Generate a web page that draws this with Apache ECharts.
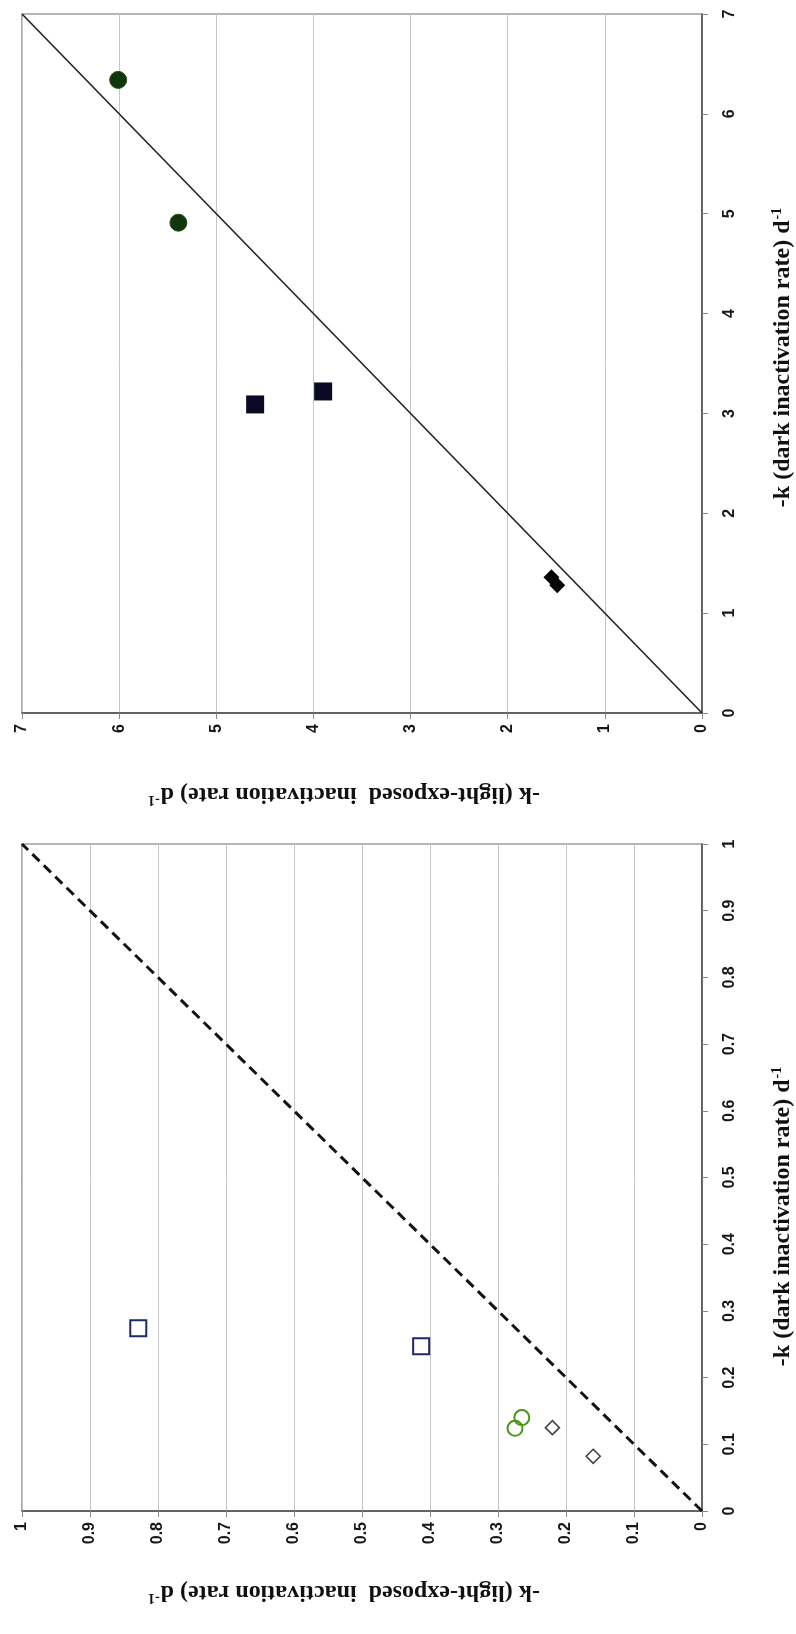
<!DOCTYPE html>
<html>
<head>
<meta charset="utf-8">
<script src="https://cdn.jsdelivr.net/npm/echarts@6/dist/echarts.min.js"></script>
<style>
  html, body { margin: 0; padding: 0; background: #ffffff; }
  #chart { width: 796px; height: 1634px; }
</style>
</head>
<body>
<div id="chart"></div>
<script>
// Upper panel: higher inactivation rates (filled markers), units d^-1
const upperTicks = [0, 1, 2, 3, 4, 5, 6, 7];
const upperCircleDark = [6.34, 4.91];
const upperCircleLight = [6.01, 5.39];
const upperSquareDark = [3.09, 3.22];
const upperSquareLight = [4.60, 3.90];
const upperDiamondDark = [1.36, 1.28];
const upperDiamondLight = [1.55, 1.49];

// Lower panel: lower inactivation rates (open markers), units d^-1
const lowerTicks = [0, 0.1, 0.2, 0.3, 0.4, 0.5, 0.6, 0.7, 0.8, 0.9, 1];
const lowerSquareDark = [0.274, 0.247];
const lowerSquareLight = [0.829, 0.413];
const lowerCircleDark = [0.140, 0.124];
const lowerCircleLight = [0.265, 0.275];
const lowerDiamondDark = [0.125, 0.082];
const lowerDiamondLight = [0.220, 0.160];

// Axis titles (superscript unit added through rich text)
const darkTitle = '-k (dark inactivation rate) d';
const lightTitle = '-k (light-exposed  inactivation rate) d';
const unitSup = '-1';

// [light, dark] pairs: light-exposed rate runs along the horizontal axis
function pairs(light, dark) {
  return light.map((v, i) => [v, dark[i]]);
}

const tickFont = {
  fontFamily: '"Liberation Sans", Arial, sans-serif',
  fontWeight: 'bold',
  fontSize: 16,
  color: '#161616'
};
const titleRich = {
  b: { fontFamily: '"Liberation Serif", "Times New Roman", serif', fontWeight: 'bold', fontSize: 24, color: '#111' },
  s: { fontFamily: '"Liberation Serif", "Times New Roman", serif', fontWeight: 'bold', fontSize: 14, color: '#111', padding: [0, 0, 12, 1] }
};

function lightAxis(gridIndex, ticks) {
  return {
    type: 'value',
    gridIndex: gridIndex,
    min: ticks[0],
    max: ticks[ticks.length - 1],
    interval: ticks[1] - ticks[0],
    inverse: true,
    position: 'bottom',
    name: '{b|' + lightTitle + '}{s|' + unitSup + '}',
    nameLocation: 'middle',
    nameRotate: 180,
    nameGap: 68,
    nameTextStyle: { rich: titleRich, padding: [0, 0, 0, 36] },
    axisLine: { show: true, onZero: false, lineStyle: { color: '#4a4a4a', width: 1.5 } },
    axisTick: { show: true, inside: false, length: 6, lineStyle: { color: '#8a8a8a', width: 1 } },
    axisLabel: Object.assign({ rotate: 90, margin: 11 }, tickFont),
    splitLine: { show: true, lineStyle: { color: '#c6c6c6', width: 1 } }
  };
}

function darkAxis(gridIndex, ticks, namePad) {
  return {
    type: 'value',
    gridIndex: gridIndex,
    min: ticks[0],
    max: ticks[ticks.length - 1],
    interval: ticks[1] - ticks[0],
    position: 'right',
    name: '{b|' + darkTitle + '}{s|' + unitSup + '}',
    nameLocation: 'middle',
    nameRotate: 90,
    nameGap: 68,
    nameTextStyle: { rich: titleRich, padding: namePad },
    axisLine: { show: true, onZero: false, lineStyle: { color: '#4a4a4a', width: 1.5 } },
    axisTick: { show: true, inside: false, length: 6, lineStyle: { color: '#8a8a8a', width: 1 } },
    axisLabel: Object.assign({ rotate: 90, margin: 20 }, tickFont),
    splitLine: { show: false }
  };
}

function diagonal(name, idx, ticks, style) {
  const lo = ticks[0], hi = ticks[ticks.length - 1];
  return {
    name: name, type: 'line', xAxisIndex: idx, yAxisIndex: idx,
    data: [[lo, lo], [hi, hi]],
    symbol: 'none', silent: true, z: 1,
    lineStyle: style
  };
}

function scatter(name, idx, data, symbol, size, itemStyle) {
  return {
    name: name, type: 'scatter', xAxisIndex: idx, yAxisIndex: idx,
    data: data, symbol: symbol, symbolSize: size, z: 3,
    itemStyle: Object.assign({ opacity: 1 }, itemStyle)
  };
}

const chart = echarts.init(document.getElementById('chart'), null, { renderer: 'canvas' });
chart.setOption({
  backgroundColor: '#ffffff',
  animation: false,
  grid: [
    { left: 22, right: 94, top: 14, height: 699, show: true, borderColor: '#6e6e6e', borderWidth: 1.2, backgroundColor: 'transparent', outerBoundsMode: 'none' },
    { left: 22, right: 94, top: 844, height: 667, show: true, borderColor: '#6e6e6e', borderWidth: 1.2, backgroundColor: 'transparent', outerBoundsMode: 'none' }
  ],
  xAxis: [lightAxis(0, upperTicks), lightAxis(1, lowerTicks)],
  yAxis: [darkAxis(0, upperTicks, [0, 0, 0, 12]), darkAxis(1, lowerTicks, [0, 78, 0, 0])],
  series: [
    diagonal('1:1 upper', 0, upperTicks, { color: '#222', width: 1.6, type: 'solid' }),
    scatter('circles upper', 0, pairs(upperCircleLight, upperCircleDark), 'circle', 17,
      { color: '#0f360f', borderColor: '#2c4a12', borderWidth: 1 }),
    scatter('squares upper', 0, pairs(upperSquareLight, upperSquareDark), 'rect', 18,
      { color: '#0a0a26' }),
    scatter('diamonds upper', 0, pairs(upperDiamondLight, upperDiamondDark), 'diamond', 16,
      { color: '#050505' }),

    diagonal('1:1 lower', 1, lowerTicks, { color: '#141414', width: 3, type: [10, 6] }),
    scatter('squares lower', 1, pairs(lowerSquareLight, lowerSquareDark), 'rect', 16,
      { color: '#ffffff', borderColor: '#1f2868', borderWidth: 2 }),
    scatter('circles lower', 1, pairs(lowerCircleLight, lowerCircleDark), 'circle', 15,
      { color: 'rgba(255,255,255,0)', borderColor: '#4c9418', borderWidth: 2 }),
    scatter('diamonds lower', 1, pairs(lowerDiamondLight, lowerDiamondDark), 'diamond', 14,
      { color: '#ffffff', borderColor: '#444444', borderWidth: 1.6 })
  ]
});
</script>
</body>
</html>
